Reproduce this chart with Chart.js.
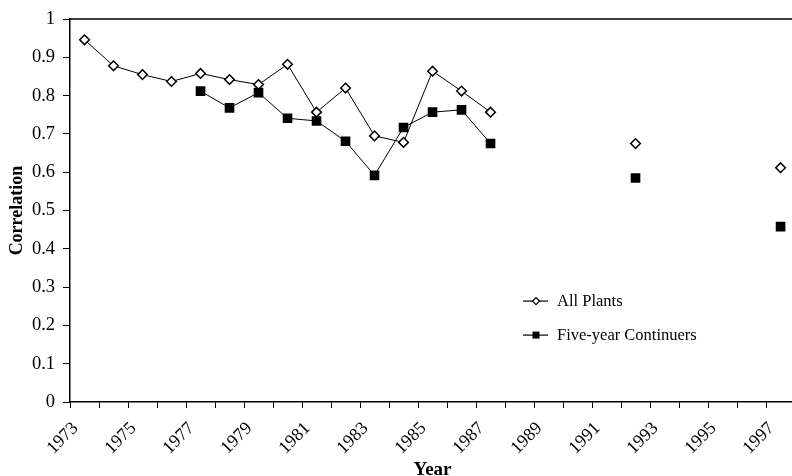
<!DOCTYPE html>
<html>
<head>
<meta charset="utf-8">
<script src="https://cdn.jsdelivr.net/npm/chart.js@4"></script>
<style>
  html, body { margin: 0; padding: 0; overflow: hidden; background: #fff; }
  #wrap { width: 806px; height: 476px; position: relative; }
</style>
</head>
<body>
<div id="wrap"><canvas id="c"></canvas></div>
<script>
// ---- data ----
const years = ['1973','1974','1975','1976','1977','1978','1979','1980','1981','1982','1983','1984','1985','1986','1987','1988','1989','1990','1991','1992','1993','1994','1995','1996','1997'];
const allPlants = [0.946,0.878,0.855,0.837,0.858,0.842,0.829,0.882,0.757,0.820,0.695,0.678,0.864,0.812,0.757,null,null,null,null,0.675,null,null,null,null,0.612];
const fiveYearContinuers = [null,null,null,null,0.812,0.768,0.808,0.741,0.734,0.681,0.592,0.717,0.757,0.763,0.675,null,null,null,null,0.585,null,null,null,null,0.458];
const seriesNames = ['All Plants', 'Five-year Continuers'];
const yTicks = [0,0.1,0.2,0.3,0.4,0.5,0.6,0.7,0.8,0.9,1];
const xTitle = 'Year';
const yTitle = 'Correlation';

const FONT = "'Liberation Serif', 'Times New Roman', serif";

const frameTop = {
  id: 'frameTop',
  afterDatasetsDraw(chart) {
    const {ctx, chartArea} = chart;
    ctx.save();
    ctx.strokeStyle = '#000';
    ctx.lineWidth = 1.5;
    ctx.beginPath();
    ctx.moveTo(chartArea.left, chartArea.top);
    ctx.lineTo(chartArea.right, chartArea.top);
    ctx.stroke();
    ctx.restore();
  }
};

const customLegend = {
  id: 'customLegend',
  afterDraw(chart) {
    const {ctx, chartArea} = chart;
    const x0 = chartArea.left + 453;
    const ys = [chartArea.top + 282, chartArea.top + 316];
    ctx.save();
    chart.data.datasets.forEach((ds, i) => {
      const y = ys[i];
      ctx.strokeStyle = '#000';
      ctx.lineWidth = 1.2;
      ctx.beginPath();
      ctx.moveTo(x0, y);
      ctx.lineTo(x0 + 25, y);
      ctx.stroke();
      const cx = x0 + 13;
      ctx.beginPath();
      if (i === 0) {
        const r = 3.5;
        ctx.moveTo(cx - r, y); ctx.lineTo(cx, y - r); ctx.lineTo(cx + r, y); ctx.lineTo(cx, y + r); ctx.closePath();
        ctx.fillStyle = '#fff'; ctx.fill();
        ctx.lineWidth = 1.3; ctx.stroke();
      } else {
        const s = 3.5;
        ctx.rect(cx - s, y - s, 2 * s, 2 * s);
        ctx.fillStyle = '#000'; ctx.fill();
      }
      ctx.fillStyle = '#000';
      ctx.font = "16.5px " + FONT;
      ctx.textAlign = 'left';
      ctx.textBaseline = 'middle';
      ctx.fillText(ds.label, x0 + 34, y + 1);
    });
    ctx.restore();
  }
};

new Chart(document.getElementById('c'), {
  type: 'line',
  data: {
    labels: years,
    datasets: [
      {
        label: seriesNames[0],
        data: allPlants,
        borderColor: '#000',
        borderWidth: 1,
        pointStyle: 'rectRot',
        pointRadius: 4.8,
        pointBackgroundColor: '#fff',
        pointBorderColor: '#000',
        pointBorderWidth: 1.5,
        spanGaps: false,
        tension: 0
      },
      {
        label: seriesNames[1],
        data: fiveYearContinuers,
        borderColor: '#000',
        borderWidth: 1,
        pointStyle: 'rect',
        pointRadius: 6.8,
        pointBackgroundColor: '#000',
        pointBorderColor: '#000',
        pointBorderWidth: 0,
        spanGaps: false,
        tension: 0
      }
    ]
  },
  options: {
    responsive: true,
    maintainAspectRatio: false,
    animation: false,
    layout: { padding: { top: 16, right: 9, left: 0, bottom: 0 } },
    plugins: { legend: { display: false }, tooltip: { enabled: false } },
    scales: {
      x: {
        type: 'category',
        offset: true,
        grid: { display: true, drawOnChartArea: false, drawTicks: true, tickLength: 6, offset: true, color: '#000', lineWidth: 1 },
        border: { display: true, color: '#000', width: 1.5 },
        ticks: {
          autoSkip: false,
          maxRotation: 45,
          minRotation: 45,
          padding: 10,
          labelOffset: -9,
          color: '#000',
          font: { family: FONT, size: 18 },
          callback: function(val, idx) { return idx % 2 === 0 ? this.getLabelForValue(val) : ''; }
        },
        title: { display: true, text: xTitle, color: '#000', font: { family: FONT, size: 19, weight: 'bold', lineHeight: 1 }, padding: { top: 0, bottom: -4 } },
        afterFit(scale) { scale.height = 74; }
      },
      y: {
        min: yTicks[0],
        max: yTicks[yTicks.length - 1],
        afterBuildTicks(scale) { scale.ticks = yTicks.map(v => ({ value: v })); },
        grid: { display: true, drawOnChartArea: false, drawTicks: true, tickLength: 7, color: '#000', lineWidth: 1 },
        border: { display: true, color: '#000', width: 1.5 },
        ticks: {
          padding: 8,
          color: '#000',
          font: { family: FONT, size: 18.5 },
          callback: (v) => String(+v.toFixed(1))
        },
        title: { display: true, text: yTitle, color: '#000', font: { family: FONT, size: 18, weight: 'bold' }, padding: { top: 7, bottom: 0 } },
        afterFit(scale) { scale.width = 70; }
      }
    }
  },
  plugins: [frameTop, customLegend]
});
</script>
</body>
</html>
